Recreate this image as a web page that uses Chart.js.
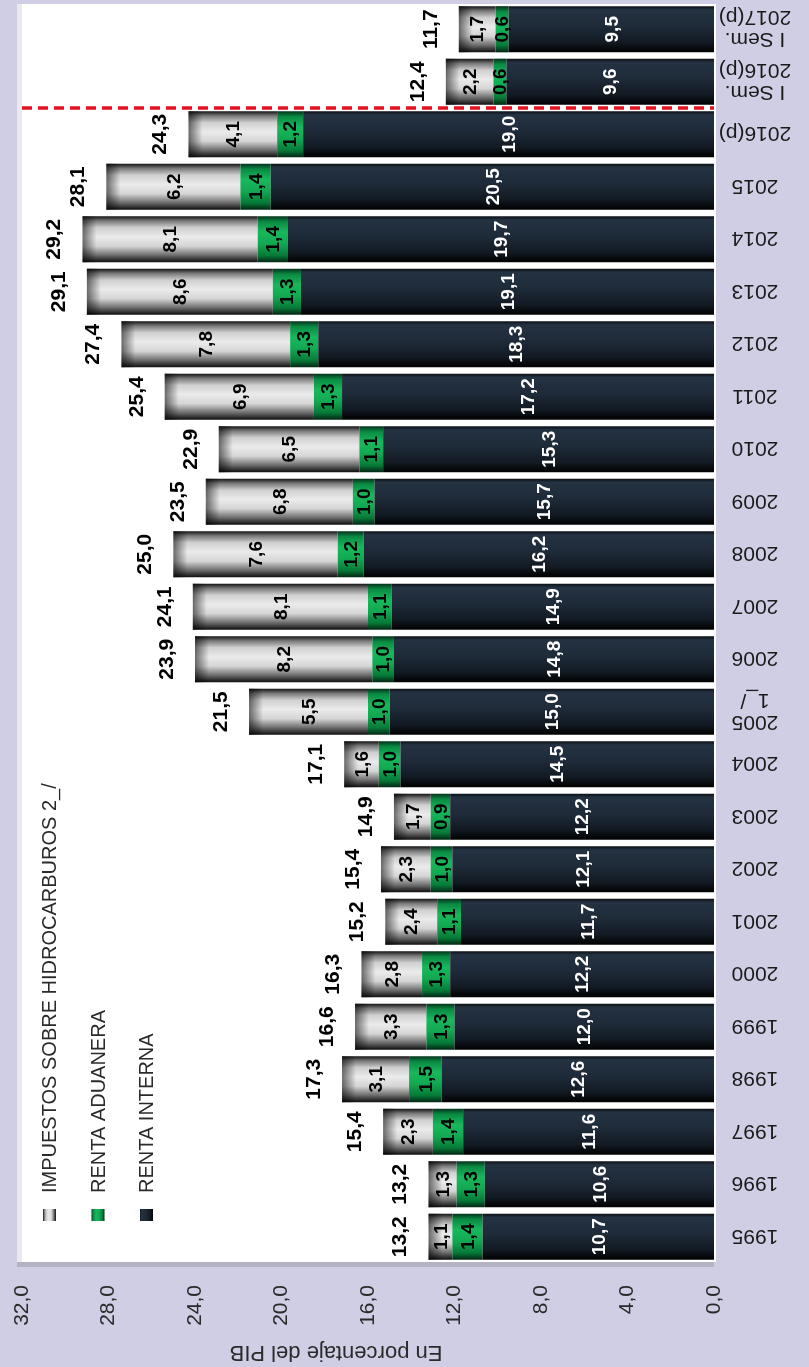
<!DOCTYPE html>
<html><head><meta charset="utf-8">
<script src="https://cdn.jsdelivr.net/npm/chart.js@4.4.1/dist/chart.umd.min.js"></script>
<style>
html,body{margin:0;padding:0;background:#cfcee4;}
#wrap{position:relative;width:809px;height:1367px;}
canvas{display:block;}
</style></head><body>
<div id="wrap"><canvas id="c" width="809" height="1367"></canvas></div>
<script>
// ---- DATA ----
const categories = [["1995"],["1996"],["1997"],["1998"],["1999"],["2000"],["2001"],["2002"],["2003"],["2004"],["2005","1_/"],["2006"],["2007"],["2008"],["2009"],["2010"],["2011"],["2012"],["2013"],["2014"],["2015"],["2016(p)"],["I Sem.","2016(p)"],["I Sem.","2017(p)"]];
const rentaInterna   = [10.7,10.6,11.6,12.6,12.0,12.2,11.7,12.1,12.2,14.5,15.0,14.8,14.9,16.2,15.7,15.3,17.2,18.3,19.1,19.7,20.5,19.0,9.6,9.5];
const rentaAduanera  = [1.4,1.3,1.4,1.5,1.3,1.3,1.1,1.0,0.9,1.0,1.0,1.0,1.1,1.2,1.0,1.1,1.3,1.3,1.3,1.4,1.4,1.2,0.6,0.6];
const hidrocarburos  = [1.1,1.3,2.3,3.1,3.3,2.8,2.4,2.3,1.7,1.6,5.5,8.2,8.1,7.6,6.8,6.5,6.9,7.8,8.6,8.1,6.2,4.1,2.2,1.7];
const totales        = [13.2,13.2,15.4,17.3,16.6,16.3,15.2,15.4,14.9,17.1,21.5,23.9,24.1,25.0,23.5,22.9,25.4,27.4,29.1,29.2,28.1,24.3,12.4,11.7];
const seriesNames    = ["RENTA INTERNA","RENTA ADUANERA","IMPUESTOS SOBRE HIDROCARBUROS 2_/"];
const axisTitle      = "En porcentaje del PIB";
const dividerAfterIndex = 21; // red dashed line between 2016(p) and I Sem. 2016(p)

// ---- STYLE ----
const FONT = "'Liberation Sans', Arial, Helvetica, sans-serif";
const BAR_PCT = 0.88;
const navyStops  = [[0,'#0b0e12'],[0.08,'#243242'],[0.45,'#1e2a38'],[0.78,'#121a23'],[1,'#000000']];
const greenStops = [[0,'#04301a'],[0.12,'#0a8a42'],[0.35,'#18b85c'],[0.6,'#12a852'],[0.85,'#067a38'],[1,'#022412']];
const grayStops  = [[0,'#111111'],[0.1,'#777777'],[0.25,'#d0d0d0'],[0.45,'#ebebeb'],[0.65,'#d5d5d5'],[0.85,'#6a6a6a'],[1,'#0d0d0d']];

function grad(stops){
  return function(ctx){
    const chart = ctx.chart;
    const ys = chart.scales && chart.scales.y;
    if(!ys || !chart.chartArea || ctx.dataIndex === undefined) return stops[Math.floor(stops.length/2)][1];
    const yc = ys.getPixelForValue(ctx.dataIndex);
    const h = Math.abs(ys.getPixelForValue(1)-ys.getPixelForValue(0))*BAR_PCT;
    const g = chart.ctx.createLinearGradient(0, yc-h/2, 0, yc+h/2);
    stops.forEach(s=>g.addColorStop(s[0], s[1]));
    return g;
  };
}
function fmt(v){ return v.toFixed(1).replace('.', ','); }

const framePlugin = {
  id:'frame',
  beforeDraw(chart){
    const {ctx, chartArea:a} = chart;
    ctx.save();
    ctx.fillStyle = '#cfcee4';
    ctx.fillRect(0,0,chart.width,chart.height);
    ctx.fillStyle = '#b4b3c4';
    ctx.fillRect(a.left-5, a.top+3, a.right-a.left+5, a.bottom-a.top+1);
    ctx.fillStyle = '#e9e9f0';
    ctx.fillRect(a.left-5, a.top+1, 5, a.bottom-a.top-2);
    ctx.fillStyle = '#ffffff';
    ctx.fillRect(a.left, a.top+1, a.right-a.left+2, a.bottom-a.top-2);
    ctx.restore();
  }
};

const labelPlugin = {
  id:'labels',
  afterDatasetsDraw(chart){
    const {ctx, chartArea:a} = chart;
    const ys = chart.scales.y;
    ctx.save();
    // left-end shading on hydrocarbon bars
    const hm = chart.getDatasetMeta(2);
    hm.data.forEach(el=>{
      const h = el.height;
      const g = ctx.createLinearGradient(el.x,0,el.x+14,0);
      g.addColorStop(0,'rgba(0,0,0,0.55)');
      g.addColorStop(1,'rgba(0,0,0,0)');
      ctx.fillStyle = g;
      ctx.fillRect(el.x, el.y-h/2, 14, h);
    });
    // red dashed divider
    const yd = (ys.getPixelForValue(dividerAfterIndex)+ys.getPixelForValue(dividerAfterIndex+1))/2;
    ctx.strokeStyle = '#e5111c';
    ctx.lineWidth = 3.5;
    ctx.setLineDash([10,6]);
    ctx.beginPath(); ctx.moveTo(a.left, yd); ctx.lineTo(a.right, yd); ctx.stroke();
    ctx.setLineDash([]);
    // segment labels
    ctx.textAlign = 'center';
    ctx.textBaseline = 'middle';
    chart.data.datasets.forEach((ds, di)=>{
      const meta = chart.getDatasetMeta(di);
      meta.data.forEach((el, i)=>{
        const cx = (el.x + el.base)/2;
        ctx.save();
        ctx.translate(cx, el.y);
        ctx.rotate(-Math.PI/2);
        ctx.font = 'bold 19px ' + FONT;
        ctx.fillStyle = di === 0 ? '#ffffff' : '#000000';
        ctx.fillText(fmt(ds.data[i]), 0, 1);
        ctx.restore();
      });
    });
    // totals
    const tm = chart.getDatasetMeta(2);
    tm.data.forEach((el,i)=>{
      ctx.save();
      ctx.translate(el.x - 29, el.y);
      ctx.rotate(-Math.PI/2);
      ctx.font = 'bold 21px ' + FONT;
      ctx.fillStyle = '#000';
      ctx.fillText(fmt(totales[i]), 0, 1);
      ctx.restore();
    });
    ctx.restore();
  },
  afterDraw(chart){
    const {ctx, chartArea:a} = chart;
    const ys = chart.scales.y;
    ctx.save();
    // category labels (upside down)
    ctx.font = '21px ' + FONT;
    ctx.fillStyle = '#1a1a1a';
    ctx.textAlign = 'center';
    ctx.textBaseline = 'middle';
    const lh = 22;
    chart.data.labels.forEach((lab,i)=>{
      const y = ys.getPixelForValue(i);
      ctx.save();
      ctx.translate(a.right + 41, y);
      ctx.rotate(Math.PI);
      const n = lab.length;
      lab.forEach((t,k)=>{ ctx.fillText(t, 0, (k-(n-1)/2)*lh + 1); });
      ctx.restore();
    });
    // axis title (upside down)
    ctx.save();
    ctx.font = '22px ' + FONT;
    ctx.fillStyle = '#2a2a2a';
    ctx.translate(336, 1352);
    ctx.rotate(Math.PI);
    ctx.fillText(axisTitle, 0, 0);
    ctx.restore();
    // legend (rotated)
    const order = [2,1,0];
    const stopsArr = [navyStops, greenStops, grayStops];
    order.forEach((di, k)=>{
      const bx = a.left + 21 + k*48.5;
      const by = 1209;
      const g = ctx.createLinearGradient(bx,0,bx+13,0);
      stopsArr[di].forEach(s=>g.addColorStop(s[0], s[1]));
      ctx.fillStyle = g;
      ctx.fillRect(bx, by, 13, 12);
      ctx.save();
      ctx.translate(bx + 13, 1193);
      ctx.rotate(-Math.PI/2);
      ctx.font = '20px ' + FONT;
      ctx.fillStyle = '#2a2a2a';
      ctx.textAlign = 'left';
      ctx.textBaseline = 'alphabetic';
      ctx.fillText(seriesNames[di], 0, 0);
      ctx.restore();
    });
    ctx.restore();
  }
};

new Chart(document.getElementById('c'), {
  type:'bar',
  data:{
    labels: categories,
    datasets:[
      {label: seriesNames[0], data: rentaInterna,  backgroundColor: grad(navyStops)},
      {label: seriesNames[1], data: rentaAduanera, backgroundColor: grad(greenStops)},
      {label: seriesNames[2], data: hidrocarburos, backgroundColor: grad(grayStops)}
    ]
  },
  options:{
    indexAxis:'y',
    responsive:false,
    animation:false,
    devicePixelRatio:1,
    layout:{padding:{left:22,right:95,top:3,bottom:0}},
    datasets:{bar:{barPercentage:BAR_PCT, categoryPercentage:1, borderWidth:0}},
    plugins:{legend:{display:false}, tooltip:{enabled:false}},
    scales:{
      x:{
        type:'linear', position:'bottom', reverse:true, stacked:true,
        min:0, max:32,
        grid:{display:false, drawTicks:false},
        border:{display:false},
        ticks:{stepSize:4, autoSkip:false, minRotation:90, maxRotation:90, padding:22,
               color:'#2a2a2a', font:{family:FONT, size:21},
               callback:(v)=>fmt(v)},
        afterFit:(s)=>{ s.height = 104; }
      },
      y:{
        type:'category', display:false, reverse:true, stacked:true,
        grid:{display:false}
      }
    }
  },
  plugins:[framePlugin, labelPlugin]
});
</script>
</body></html>
